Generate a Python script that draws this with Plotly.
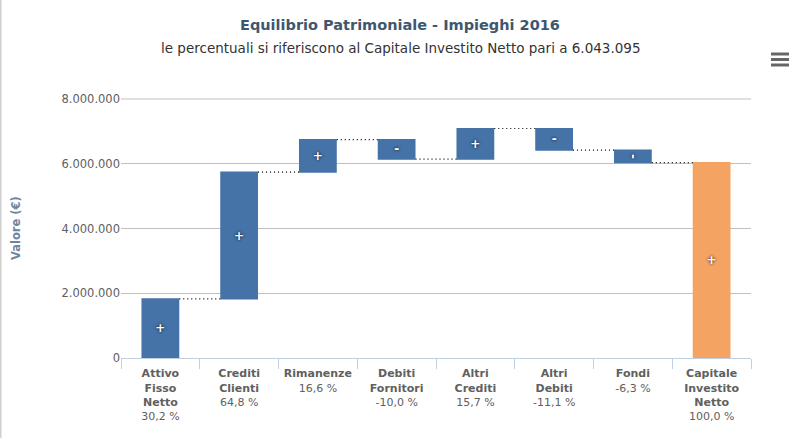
import plotly.graph_objects as go

# ---- data ----
categories = ["Attivo Fisso Netto", "Crediti Clienti", "Rimanenze", "Debiti Fornitori",
              "Altri Crediti", "Altri Debiti", "Fondi", "Capitale Investito Netto"]
label_names = ["Attivo<br>Fisso<br>Netto", "Crediti<br>Clienti", "Rimanenze", "Debiti<br>Fornitori",
               "Altri<br>Crediti", "Altri<br>Debiti", "Fondi", "Capitale<br>Investito<br>Netto"]
percent_labels = ["30,2 %", "64,8 %", "16,6 %", "-10,0 %", "15,7 %", "-11,1 %", "-6,3 %", "100,0 %"]
values = [1825015, 3915926, 1003154, -604310, 948766, -670783, -380715, 6043095]
measures = ["relative"] * 7 + ["total"]
signs = ["+", "+", "+", "-", "+", "-", "-", "+"]
y_ticks = [0, 2000000, 4000000, 6000000, 8000000]
y_ticktext = ["0", "2.000.000", "4.000.000", "6.000.000", "8.000.000"]
y_max = 8000000

FONT = "DejaVu Sans"
BLUE = "#4572A7"
ORANGE = "#F4A362"

# plot area in pixels
W, H = 800, 438
L, R, T, B = 121, 49, 99, 80
PW = W - L - R
PH = H - T - B

def px_x(p):
    return (p - L) / PW

def px_y(p):
    return (H - B - p) / PH

ticktext = [f"<b>{n}</b><br>{p}" for n, p in zip(label_names, percent_labels)]

fig = go.Figure(go.Waterfall(
    x=categories,
    y=values,
    measure=measures,
    text=signs,
    textposition="inside",
    insidetextanchor="middle",
    constraintext="none",
    textfont=dict(family=FONT, size=12, color="white", weight="bold",
                  shadow="0px 0px 3px #000000"),
    increasing=dict(marker=dict(color=BLUE, line=dict(width=0))),
    decreasing=dict(marker=dict(color=BLUE, line=dict(width=0))),
    totals=dict(marker=dict(color=ORANGE, line=dict(width=0))),
    connector=dict(line=dict(color="#000000", width=1.2, dash="1px,3px")),
    hoverinfo="skip",
))

fig.update_layout(
    width=W, height=H,
    margin=dict(l=L, r=R, t=T, b=B),
    paper_bgcolor="white", plot_bgcolor="white",
    showlegend=False,
    waterfallgap=0.52,
    font=dict(family=FONT, color="#606060"),
    xaxis=dict(
        tickmode="array", tickvals=categories, ticktext=ticktext,
        tickson="boundaries", ticks="outside", ticklen=10, tickcolor="#C0D0E0",
        showline=True, linecolor="#C0D0E0", linewidth=1,
        showgrid=False, tickfont=dict(family=FONT, size=11, color="#606060"),
        ticklabelstandoff=5,
        fixedrange=True,
    ),
    yaxis=dict(
        range=[0, y_max], tickvals=y_ticks, ticktext=y_ticktext,
        showgrid=True, gridcolor="#C0C0C0", gridwidth=1,
        zeroline=False, showline=False, ticks="",
        tickfont=dict(family=FONT, size=11.5, color="#606060"),
        fixedrange=True,
    ),
    annotations=[
        dict(text="<b>Equilibrio Patrimoniale - Impieghi 2016</b>", xref="paper", yref="paper",
             x=px_x(400), y=px_y(25), xanchor="center", yanchor="middle", showarrow=False,
             font=dict(family=FONT, size=14.5, color="#3E576F")),
        dict(text="le percentuali si riferiscono al Capitale Investito Netto pari a 6.043.095",
             xref="paper", yref="paper", x=px_x(400), y=px_y(48), xanchor="center",
             yanchor="middle", showarrow=False,
             font=dict(family=FONT, size=13.5, color="#333333")),
        dict(text="<b>Valore (€)</b>", xref="paper", yref="paper", x=px_x(16), y=px_y(228),
             xanchor="center", yanchor="middle", textangle=-90, showarrow=False,
             font=dict(family=FONT, size=11.5, color="#6D869F")),
    ],
    shapes=[
        # top gridline (plotly drops grid lines that sit on the plot edge)
        dict(type="line", xref="paper", yref="paper", x0=0, x1=1, y0=1, y1=1,
             line=dict(color="#C0C0C0", width=1), layer="below"),
        # light page border on the left
        dict(type="line", xref="paper", yref="paper", x0=px_x(0.75), x1=px_x(0.75),
             y0=px_y(0), y1=px_y(H), line=dict(color="#D0D0D0", width=1.5)),
    ] + [
        dict(type="rect", xref="paper", yref="paper", x0=px_x(771), x1=px_x(789),
             y0=px_y(yy - 1.5), y1=px_y(yy + 1.5), fillcolor="#666666", line=dict(width=0))
        for yy in (54, 59.5, 65)
    ],
)

fig.write_html("out.html", config={"displayModeBar": False})

# remove the browser's default page margin so the figure sits at the window origin
with open("out.html", "r", encoding="utf-8") as f:
    html = f.read()
html = html.replace("<body>", '<body style="margin:0;overflow:hidden;">', 1)
with open("out.html", "w", encoding="utf-8") as f:
    f.write(html)
